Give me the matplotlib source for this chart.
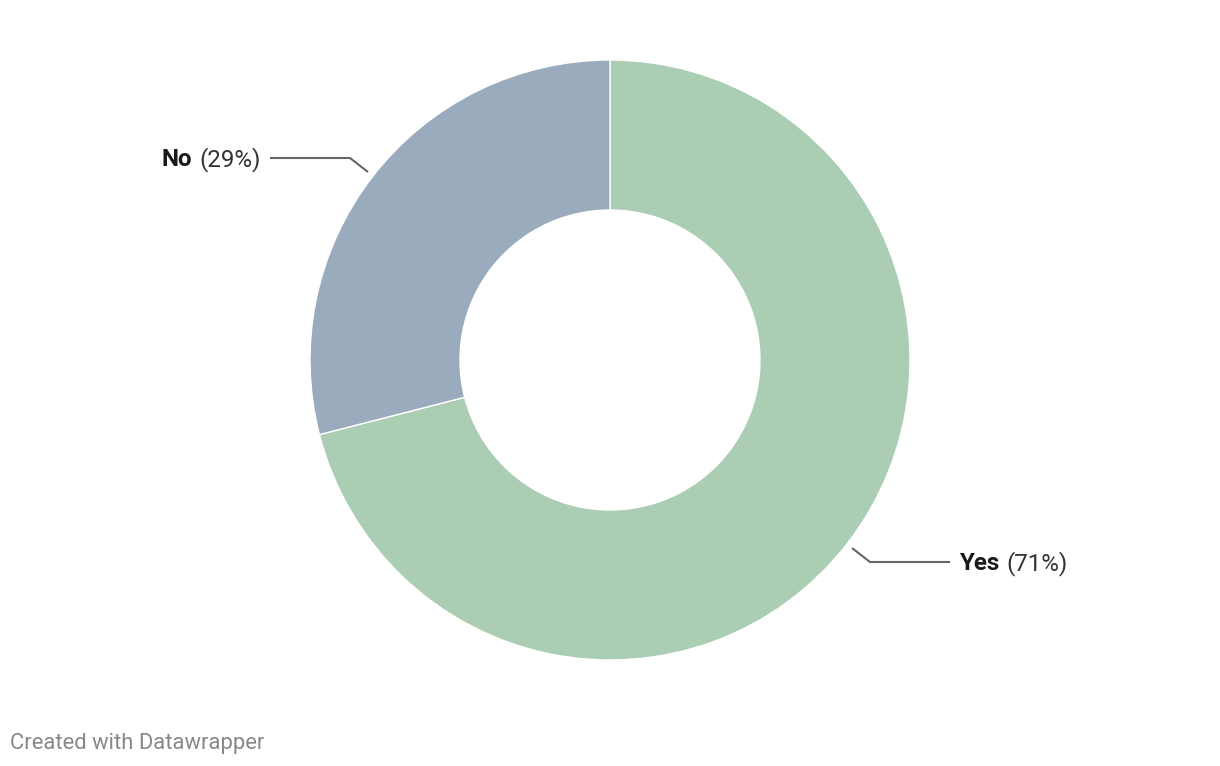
import matplotlib
matplotlib.use("Agg")
import matplotlib.pyplot as plt

labels = ["Yes", "No"]
values = [71, 29]
colors = ["#abcdb4", "#99abbc"]
footer = "Created with Datawrapper"

W, H = 1220, 766
fig = plt.figure(figsize=(W / 100, H / 100), dpi=100)
ax = fig.add_axes([0, 0, 1, 1])

cx, cy = 610, H - 360
R = 300
ax.pie(values, colors=colors, startangle=90, counterclock=False,
       center=(cx, cy), radius=R, frame=True,
       wedgeprops=dict(width=150, edgecolor="white", linewidth=1))
ax.set_xlim(0, W)
ax.set_ylim(0, H)
ax.set_aspect("equal")
ax.axis("off")

def Y(py):
    return H - py

line_kw = dict(color="#666666", lw=1.5, solid_capstyle="butt")
# No leader
ax.plot([270, 350, 368], [Y(158), Y(158), Y(172)], **line_kw)
# Yes leader
ax.plot([852, 870, 950], [Y(548), Y(562), Y(562)], **line_kw)

fs = 17.4
ax.text(192, Y(160), labels[1], ha="right", va="center", fontsize=fs,
        fontweight="bold", family="Roboto", color="#1a1a1a")
ax.text(199, Y(160), f"({values[1]}%)", ha="left", va="center", fontsize=fs,
        family="Roboto", color="#333333")
ax.text(999, Y(564), labels[0], ha="right", va="center", fontsize=fs,
        fontweight="bold", family="Roboto", color="#1a1a1a")
ax.text(1006, Y(564), f"({values[0]}%)", ha="left", va="center", fontsize=fs,
        family="Roboto", color="#333333")

ax.text(10, Y(744), footer, ha="left", va="center", fontsize=15.8,
        family="Roboto", color="#888888")

fig.savefig("out.png", dpi=100, facecolor="white")
